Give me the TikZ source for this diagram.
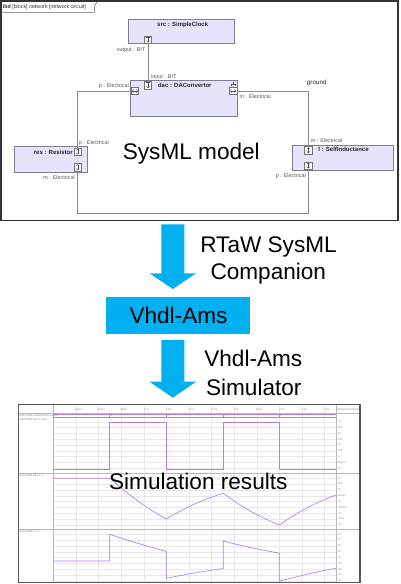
\documentclass[tikz,border=0pt]{standalone}
\usepackage{fontspec}
\setmainfont{Liberation Sans}
\usetikzlibrary{calc,arrows.meta}
\definecolor{blkfill}{RGB}{228,228,250}
\definecolor{blkline}{RGB}{125,125,150}
\definecolor{wirec}{RGB}{140,140,140}
\definecolor{lblc}{RGB}{85,85,85}
\definecolor{framec}{RGB}{50,50,50}
\definecolor{arrowblue}{RGB}{0,176,240}
\definecolor{sigc}{RGB}{178,128,228}
\definecolor{gridc}{RGB}{232,232,232}
\definecolor{sepc}{RGB}{185,185,185}
\definecolor{iconblue}{RGB}{60,80,170}
\newcommand\myfs[1]{\fontsize{#1}{#1}\selectfont}
\begin{document}
\begin{tikzpicture}[x=1pt,y=-1pt,
  blk/.style={draw=blkline, fill=blkfill, line width=0.6pt, inner sep=0},
  port/.style={draw=black!55, fill=white, minimum size=7.3pt, inner sep=0, line width=0.4pt},
  ptic/.style={line width=0.35pt, draw=black!70, line join=miter},
  bitport/.style={port, path picture={
     \coordinate (pc) at (path picture bounding box.center);
     \draw[ptic] ($(pc)+(0,-2.6)$) -- ++(0,5.2);
     \draw[ptic] ($(pc)+(-1.6,1)$) -- ++(1.6,1.6) -- ++(1.6,-1.6);
     \draw[ptic] ($(pc)+(-1.8,-2.6)$) -- ++(3.6,0);}},
  hport/.style={port, path picture={
     \coordinate (pc) at (path picture bounding box.center);
     \draw[ptic] ($(pc)+(-2.7,0)$) -- ++(5.4,0);
     \draw[ptic] ($(pc)+(-1.2,-1.6)$) -- ++(-1.5,1.6) -- ++(1.5,1.6);
     \draw[ptic] ($(pc)+(1.2,-1.6)$) -- ++(1.5,1.6) -- ++(-1.5,1.6);}},
  vport/.style={port, path picture={
     \coordinate (pc) at (path picture bounding box.center);
     \draw[ptic] ($(pc)+(0,-2.7)$) -- ++(0,5.4);
     \draw[ptic] ($(pc)+(-1.6,-1.2)$) -- ++(1.6,-1.5) -- ++(1.6,1.5);
     \draw[ptic] ($(pc)+(-1.6,1.2)$) -- ++(1.6,1.5) -- ++(1.6,-1.5);}},
  wire/.style={draw=wirec, line width=0.7pt},
  lbl/.style={font=\myfs{5.4}, text=lblc, inner sep=0},
  bname/.style={font=\myfs{6}\bfseries, text=black!85, inner sep=0, anchor=base},
  big/.style={font=\myfs{22.6}, text=black, inner sep=0, anchor=base},
  tiny/.style={font=\myfs{2.5}, text=black!50, inner sep=0},
  tinyp/.style={font=\myfs{2.5}, text=sigc!80!black, inner sep=0},
  sig/.style={draw=sigc, line width=0.65pt, line join=round}
]
\useasboundingbox (0,0) rectangle (400,584);
\fill[white] (0,0) rectangle (400,584);

% ---------------- SysML model frame ----------------
\draw[line width=1.2pt, draw=framec] (1,1) rectangle (398,220.5);
\draw[line width=0.5pt, draw=black!60] (1,12.3) -- (94.3,12.3) -- (94.3,6.5) -- (97.5,1);
\node[anchor=base west, font=\myfs{5.3}, text=black!80, inner sep=0] (tab) at (2.7,8.6) {\textbf{ibd} [block] network [network circuit]};

% blocks
\node[blk, minimum width=105.6pt, minimum height=24.7pt] (src) at (181.5,31.35) {};
\node[blk, minimum width=107.4pt, minimum height=36.3pt] (dac) at (184,98.15) {};
\node[blk, minimum width=73pt, minimum height=25.6pt] (res) at (51.2,159.5) {};
\node[blk, minimum width=101.7pt, minimum height=25pt] (ind) at (342.85,157.8) {};

\node[bname] (srcname) at (182.7,26.2) {src : SimpleClock};
\node[bname] (dacname) at (184.8,87.2) {dac : DAConvertor};
\node[bname] (resname) at (53.3,154.5) {res : Resistor};
\node[bname] (indname) at (343.5,151.9) {l : SelfInductance};

% decomposition icon of dac
\draw[iconblue, line width=0.5pt] (233.3,82) -- (233.3,84) (231.6,86) -- (231.6,84) -- (235,84) -- (235,86);

% ports
\node[bitport] (srcout) at (148,39.7) {};
\node[bitport] (dacin) at (148,85.2) {};
\node[hport] (dacp) at (135,91) {};
\node[hport] (dacm) at (233.2,91) {};
\node[vport] (resp) at (77.7,151.7) {};
\node[vport] (resm) at (77.7,167.2) {};
\node[vport] (indm) at (308.3,150.2) {};
\node[vport] (indp) at (308.3,165.5) {};

% connectors
\draw[wire] (srcout) -- (dacin);
\draw[wire] (dacp.west) -| (resp.north);
\draw[wire] (dacm.east) -| (indm.north);
\coordinate (bl) at (77.7,213);
\coordinate (br) at (308.3,213);
\draw[wire] (resm.south) -- (bl) -- (br) -- (indp.south);

% port labels
\node[lbl, anchor=base east] (lout) at (145.3,51.2) {output : BIT};
\node[lbl, anchor=base west] (lin) at (151,78) {input : BIT};
\node[lbl, anchor=base east] (ldacp) at (129,87) {p : Electrical};
\node[lbl, anchor=base west] (ldacm) at (239.3,98.2) {m : Electrical};
\node[lbl, anchor=base west] (lresp) at (78.7,144.6) {p : Electrical};
\node[lbl, anchor=base east] (lresm) at (75,179) {m : Electrical};
\node[lbl, anchor=base west] (lindm) at (310.7,142.6) {m : Electrical};
\node[lbl, anchor=base east] (lindp) at (306,177) {p : Electrical};
\node[anchor=base west, font=\myfs{6.3}, text=black!85, inner sep=0] (ground) at (306.7,84.5) {ground};

\node[big] (sysml) at (191.3,159.3) {SysML model};

% ---------------- transformation chain ----------------
\node[fill=arrowblue, minimum width=144pt, minimum height=37pt, inner sep=0] (vhdl) at (178,315.8) {};
\node[big] (vhdltxt) at (178.5,323.3) {Vhdl-Ams};

\coordinate (a1s) at (172.8,224.3);
\coordinate (a1t) at (172.8,289);
\coordinate (a2s) at (172.8,340);
\coordinate (a2t) at (172.8,397.7);
\fill[arrowblue] ($(a1s)+(-11.5,0)$) -- ($(a1s)+(11.5,0)$) -- ($(a1t)+(11.5,-15.7)$) -- ($(a1t)+(23.3,-15.7)$) -- (a1t) -- ($(a1t)+(-23.3,-15.7)$) -- ($(a1t)+(-11.5,-15.7)$) -- cycle;
\fill[arrowblue] ($(a2s)+(-11.5,0)$) -- ($(a2s)+(11.5,0)$) -- ($(a2t)+(11.5,-16)$) -- ($(a2t)+(23.3,-16)$) -- (a2t) -- ($(a2t)+(-23.3,-16)$) -- ($(a2t)+(-11.5,-16)$) -- cycle;

\node[big] (rtaw1) at (268.5,252.3) {RTaW SysML};
\node[big] (rtaw2) at (268.3,279.3) {Companion};
\node[big] (sim1) at (253.3,366.7) {Vhdl-Ams};
\node[big] (sim2) at (253.8,395) {Simulator};

% ---------------- simulation results ----------------
\fill[white] (18.3,404.3) rectangle (360,582.3);
\foreach \k in {1,...,12} \draw[gridc, line width=0.4pt] ({53.3+\k*22.6},404.3) -- ({53.3+\k*22.6},582.3);
\foreach \ya in {421.7,478.3,534.3} {
  \foreach \k in {0,...,8} \draw[gridc, line width=0.4pt] (53.3,{\ya+\k*5.83}) -- (336,{\ya+\k*5.83});
}
\draw[sepc, line width=0.5pt] (18.3,413.3) -- (360,413.3);
\draw[sepc, line width=0.5pt] (18.3,473.3) -- (360,473.3);
\draw[sepc, line width=0.5pt] (18.3,529.3) -- (360,529.3);
\draw[sepc, line width=0.5pt] (53.3,404.3) -- (53.3,582.3);
\draw[sepc, line width=0.5pt] (336,404.3) -- (336,582.3);

% header time labels
\foreach \t [count=\i] in {250ms,500ms,750ms,1.0s,1.25s,1.5s,1.75s,2.0s,2.25s,2.5s,2.75s,3.0s}
  \node[tiny] at ({53.3+\i*22.6+2.6},409.5) {\t};
\node[tiny, anchor=west] (hval) at (337,409.5) {VALUE AT CURSOR};

% left labels
\node[tiny, anchor=west] at (19.5,415.3) {NETWORK.CONVERTOR.STATE};
\node[tinyp, anchor=west] at (19.5,419.8) {NETWORK.DAC.S\_OUT};
\node[tinyp, anchor=west] at (19.5,475.8) {NETWORK.RES.P\_V};
\node[tinyp, anchor=west] at (19.5,531.8) {NETWORK.L.V\_L};

% right values
\foreach \v [count=\i from 0] in {4V,3.5V,3V,2.5V,2V,1.5V,1V,500mV,0V}
  \node[tiny, anchor=west] at (337.5,{421.7+\i*5.83}) {\v};
\foreach \v [count=\i from 0] in {2V,1.5V,1V,500mV,0V,-500mV,-1V,-1.5V,-2V}
  \node[tiny, anchor=west] at (337.5,{478.3+\i*5.83}) {\v};
\foreach \v [count=\i from 0] in {4V,3V,2V,1V,0V,-1V,-2V,-3V,-4V}
  \node[tiny, anchor=west] at (337.5,{534.3+\i*5.83}) {\v};

% digital bus row
\draw[sig, line width=0.5pt] (53.3,414.3) -- (336,414.3) (53.3,416.8) -- (336,416.8);
\foreach \x/\b in {53.3/0,109.7/1,166.7/0,223.3/1,279.3/0} {
  \draw[sig, line width=0.5pt] (\x,414.3) -- (\x,416.8);
  \node[tinyp, anchor=west] at ({\x+0.6},415.6) {\b};
}

% signal 1: square wave
\draw[sig] (53.3,469.3) -- (109.7,469.3) -- (109.7,422.7) -- (166.7,422.7) -- (166.7,469.3) -- (223.3,469.3) -- (223.3,422.7) -- (279.3,422.7) -- (279.3,469.3) -- (336,469.3);

% signal 2
\draw[sig] (53.3,478.3) -- (110,478.3)
  .. controls (128.8,495.2) and (147.5,508.7) .. (166.3,519)
  .. controls (185.3,507.6) and (204.3,499) .. (223.3,493.3)
  .. controls (242,507.3) and (260.6,517.5) .. (279.3,525)
  .. controls (298.2,511.8) and (317.1,501.8) .. (336,495);

% signal 3
\draw[sig] (53.3,561) -- (109.7,561) -- (109.7,534.3)
  .. controls (128.6,540.5) and (147.4,546.5) .. (166.3,551.3) -- (166.3,578.3)
  .. controls (185.3,574.5) and (204.3,571) .. (223.3,568.5) -- (223.3,541)
  .. controls (242,546) and (260.6,550) .. (279.3,553) -- (279.3,581)
  .. controls (298.2,576.5) and (317.1,571.5) .. (336,568.3);

\draw[line width=1.2pt, draw=black!65] (18.3,404.3) rectangle (360,582.3);

\node[big] (simres) at (198.3,489.3) {Simulation results};
\end{tikzpicture}
\end{document}
